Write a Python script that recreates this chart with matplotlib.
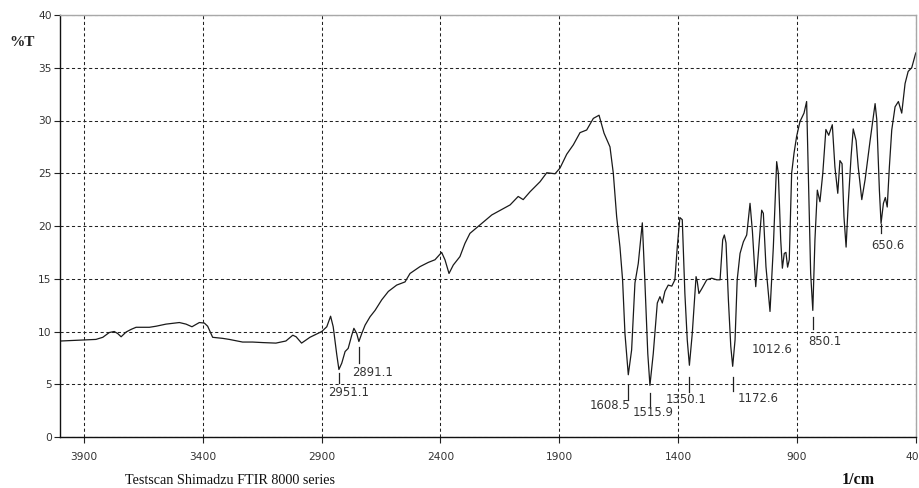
import matplotlib
matplotlib.use("Agg")
import numpy as np
import matplotlib.pyplot as plt

# ---------- spectrum (wavenumber on the drawn axis, %T) ----------
wavenumber = [3996, 3898, 3849, 3820, 3793, 3772, 3757, 3743, 3722, 3701,
              3680, 3652, 3624, 3596, 3554, 3498, 3470, 3445, 3414, 3393,
              3379, 3358, 3316, 3288, 3232, 3190, 3148, 3092, 3050, 3021,
              3007, 2984, 2949, 2899, 2878, 2862, 2851, 2836, 2827, 2815,
              2801, 2788, 2773, 2764, 2752, 2743, 2731, 2717, 2696, 2675,
              2647, 2619, 2584, 2549, 2528, 2486, 2451, 2423, 2395, 2381,
              2364, 2346, 2318, 2297, 2276, 2234, 2184, 2107, 2073, 2052,
              2023, 1981, 1953, 1918, 1897, 1869, 1841, 1813, 1785, 1757,
              1733, 1712, 1687, 1673, 1659, 1645, 1634, 1624, 1610, 1596,
              1582, 1568, 1551, 1540, 1528, 1519, 1505, 1488, 1477, 1467,
              1456, 1442, 1427, 1414, 1404, 1393, 1383, 1372, 1362, 1353,
              1341, 1325, 1320, 1313, 1301, 1280, 1259, 1238, 1224, 1213,
              1206, 1199, 1189, 1179, 1171, 1161, 1152, 1140, 1126, 1112,
              1098, 1088, 1074, 1063, 1049, 1042, 1031, 1014, 1000, 986,
              979, 969, 962, 954, 947, 940, 933, 923, 913, 902,
              888, 871, 860, 853, 843, 834, 825, 815, 804, 792,
              779, 767, 752, 741, 729, 720, 711, 703, 694, 685,
              673, 664, 652, 643, 628, 614, 593, 572, 565, 554,
              547, 537, 529, 521, 512, 502, 488, 474, 460, 446,
              433, 418, 401]
transmittance = [9.1, 9.2, 9.25, 9.45, 9.9, 10.0, 9.8, 9.5, 9.95, 10.2,
                 10.4, 10.4, 10.4, 10.5, 10.7, 10.85, 10.7, 10.45, 10.85, 10.8,
                 10.5, 9.45, 9.35, 9.25, 9.0, 9.0, 8.95, 8.9, 9.1, 9.65,
                 9.5, 8.9, 9.45, 10.0, 10.45, 11.45, 10.45, 7.8, 6.4, 7.0,
                 8.1, 8.4, 9.65, 10.3, 9.8, 9.05, 9.8, 10.6, 11.4, 12.0,
                 13.0, 13.8, 14.4, 14.7, 15.5, 16.15, 16.55, 16.8, 17.5, 16.8,
                 15.5, 16.3, 17.1, 18.35, 19.3, 20.1, 21.05, 22.0, 22.8, 22.5,
                 23.25, 24.2, 25.05, 24.95, 25.5, 26.8, 27.7, 28.85, 29.1, 30.2,
                 30.5, 28.8, 27.5, 25.0, 20.9, 18.0, 14.9, 9.8, 5.9, 8.25,
                 14.6, 16.45, 20.3, 14.6, 7.9, 4.9, 7.9, 12.7, 13.3, 12.7,
                 13.8, 14.4, 14.3, 14.9, 18.0, 20.8, 20.6, 13.6, 9.2, 6.8,
                 9.8, 15.2, 14.75, 13.6, 14.05, 14.9, 15.05, 14.9, 14.9, 18.7,
                 19.15, 18.4, 13.0, 8.6, 6.7, 9.2, 14.9, 17.4, 18.5, 19.15,
                 22.15, 19.5, 14.25, 17.4, 21.5, 21.2, 16.15, 11.9, 18.0, 26.1,
                 25.0, 18.7, 16.0, 17.4, 17.5, 16.1, 16.8, 25.0, 26.9, 28.5,
                 29.9, 30.7, 31.8, 25.0, 15.5, 12.0, 18.7, 23.4, 22.3, 25.0,
                 29.15, 28.6, 29.6, 25.6, 23.1, 26.2, 25.9, 20.9, 18.0, 22.15,
                 26.6, 29.2, 28.1, 25.6, 22.5, 24.4, 28.1, 31.6, 30.1, 23.4,
                 20.25, 22.15, 22.7, 21.8, 25.6, 29.1, 31.3, 31.8, 30.7, 33.5,
                 34.65, 35.0, 36.4]

# peak labels as printed, and where the matching dip sits on the drawn axis
peak_labels = ["2951.1", "2891.1", "1608.5", "1515.9", "1350.1",
               "1172.6", "1012.6", "850.1", "650.6"]
peak_dips = [2827, 2743, 1610, 1519, 1353, 1171, 1014, 834, 547]

x_ticks = [3900, 3400, 2900, 2400, 1900, 1400, 900, 400]
y_ticks = [0, 5, 10, 15, 20, 25, 30, 35, 40]

# label layout in pixels: text dx, text dy (below dip), tick gap, tick length
label_layout = [(10, 23, 4, 10), (14, 31, 5, 16), (-18, 31, 10, 15),
                (3, 27, 8, 15), (-3, 34, 12, 15), (25, 32, 11, 14),
                (2, 38, 0, 0), (12, 31, 7, 12), (7, 22, 1, 9)]

W, H = 919, 488
fig = plt.figure(figsize=(W / 100, H / 100), dpi=100)
ax = fig.add_axes([60 / W, 1 - 437 / H, 856 / W, 422 / H])

ax.plot(wavenumber, transmittance, color="#1a1a1a", lw=0.9)

ax.set_xlim(4000, 400)
ax.set_ylim(0, 40)
ax.set_xticks(x_ticks)
ax.set_yticks(y_ticks)
ax.grid(True, color="#222222", ls=(0, (3, 2.5)), lw=0.75)
ax.tick_params(axis="both", direction="out", length=4, width=0.8,
               color="#222222", labelcolor="#333333", labelsize=7.7)
ax.tick_params(axis="x", pad=7)
ax.tick_params(axis="y", pad=2)
for s in ("top", "right"):
    ax.spines[s].set_color("#a8a8a8")
    ax.spines[s].set_linewidth(1.0)
for s in ("left", "bottom"):
    ax.spines[s].set_color("#111111")
    ax.spines[s].set_linewidth(1.0)

# ---------- peak markers ----------
wn = np.array(wavenumber)
tr = np.array(transmittance)
to_px = ax.transData
to_data = ax.transData.inverted()
for lab, dip, (dx, dy, gap, ln) in zip(peak_labels, peak_dips, label_layout):
    win = np.abs(wn - dip) <= 8
    i = np.where(win)[0][np.argmin(tr[win])]
    x0, y0 = wn[i], tr[i]
    if ln > 0:
        px, py = to_px.transform((x0, y0))
        a = to_data.transform((px, py - gap))
        b = to_data.transform((px, py - gap - ln))
        ax.plot([a[0], b[0]], [a[1], b[1]], color="#222222", lw=0.9)
    ax.annotate(lab, xy=(x0, y0), xytext=(dx * 0.72, -dy * 0.72),
                textcoords="offset points", ha="center", va="center",
                fontsize=8.4, color="#333333")

fig.text(22 / W, 1 - 42 / H, "%T", fontsize=11, fontweight="bold",
         family="Liberation Serif", color="#222222", ha="center", va="center")
fig.text(858 / W, 1 - 480 / H, "1/cm", fontsize=11.5, fontweight="bold",
         family="Liberation Serif", color="#111111", ha="center", va="center")
fig.text(125 / W, 1 - 481 / H, "Testscan Shimadzu FTIR 8000 series",
         fontsize=10.2, family="Liberation Serif", color="#111111",
         ha="left", va="center")

fig.savefig("out.png", dpi=100)
